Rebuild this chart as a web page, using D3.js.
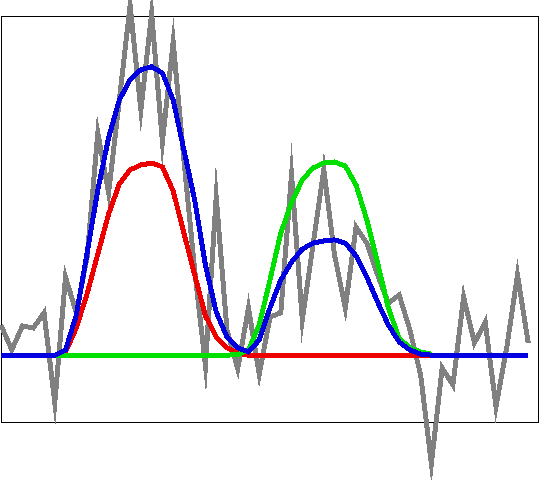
<!DOCTYPE html>
<html>
<head>
<meta charset="utf-8">
<script src="https://cdn.jsdelivr.net/npm/d3@7"></script>
<style>
  html, body { margin: 0; padding: 0; background: #fff; }
  svg { display: block; }
</style>
</head>
<body>
<div id="chart"></div>
<script>
// sample index on the x axis (0..49)
var xIndex = d3.range(50);

// noisy observed signal
var observed = [0.111, 0.019, 0.108, 0.100, 0.156, -0.175, 0.288, 0.156, 0.360, 0.819,
                0.598, 0.941, 1.290, 0.904, 1.260, 0.786, 1.154, 0.719, 0.314, -0.040,
                0.583, 0.093, -0.050, 0.174, -0.070, 0.140, 0.156, 0.664, 0.130, 0.406,
                0.683, 0.369, 0.174, 0.472, 0.413, 0.296, 0.192, 0.222, 0.093, -0.073,
                -0.400, -0.047, -0.110, 0.214, 0.045, 0.122, -0.190, 0.027, 0.296, 0.045];

// first component (red), indices 5..40
var componentA = [0.000, 0.012, 0.100, 0.226, 0.373, 0.520, 0.631, 0.683, 0.701, 0.708,
                  0.694, 0.605, 0.450, 0.296, 0.145, 0.067, 0.027, 0.008, 0.000, 0.000,
                  0.000, 0.000, 0.000, 0.000, 0.000, 0.000, 0.000, 0.000, 0.000, 0.000,
                  0.000, 0.000, 0.000, 0.000, 0.000, 0.000];

// second component (green), indices 5..40
var componentB = [0.000, 0.000, 0.000, 0.000, 0.000, 0.000, 0.000, 0.000, 0.000, 0.000,
                  0.000, 0.000, 0.000, 0.000, 0.000, 0.000, 0.000, 0.002, 0.019, 0.111,
                  0.277, 0.450, 0.561, 0.646, 0.690, 0.708, 0.712, 0.697, 0.627, 0.498,
                  0.340, 0.174, 0.063, 0.027, 0.012, 0.004];
var componentStart = 5;

// fitted model (blue), all indices
var fitted = [0.000, 0.000, 0.000, 0.000, 0.000, 0.000, 0.019, 0.148, 0.376, 0.609,
              0.801, 0.941, 1.015, 1.052, 1.063, 1.040, 0.941, 0.756, 0.572, 0.332,
              0.159, 0.067, 0.027, 0.012, 0.056, 0.174, 0.277, 0.343, 0.391, 0.413,
              0.421, 0.425, 0.413, 0.366, 0.288, 0.196, 0.111, 0.049, 0.019, 0.004,
              0.000, 0.000, 0.000, 0.000, 0.000, 0.000, 0.000, 0.000, 0.000, 0.000];

var width = 540, height = 480;
var plot = {left: 1, top: 16, right: 539, bottom: 423};

var svg = d3.select("#chart").append("svg")
  .attr("width", width)
  .attr("height", height);

var xScale = d3.scaleLinear().domain([0, 50]).range([plot.left, plot.right]);
var yScale = d3.scaleLinear().domain([-0.25, 1.25]).range([plot.bottom, plot.top]);

// frame
svg.append("rect")
  .attr("x", plot.left + 0.5)
  .attr("y", plot.top + 0.5)
  .attr("width", plot.right - plot.left - 1)
  .attr("height", plot.bottom - plot.top - 1)
  .attr("fill", "none")
  .attr("stroke", "#000")
  .attr("stroke-width", 1)
  .attr("shape-rendering", "crispEdges");

var line = d3.line()
  .x(function(d){ return xScale(d[0]); })
  .y(function(d){ return yScale(d[1]); });

function pairs(values, start){
  return values.map(function(v, i){ return [xIndex[start + i], v]; });
}

var series = [
  {name: "observed", data: pairs(observed, 0), color: "#808080"},
  {name: "componentA", data: pairs(componentA, componentStart), color: "#ee0000"},
  {name: "componentB", data: pairs(componentB, componentStart), color: "#00e000"},
  {name: "fitted", data: pairs(fitted, 0), color: "#0000e0"}
];

svg.selectAll(".series").data(series)
  .enter().append("path")
  .attr("class", function(d){ return "series series--" + d.name; })
  .attr("d", function(d){ return line(d.data); })
  .attr("fill", "none")
  .attr("stroke", function(d){ return d.color; })
  .attr("stroke-width", 5)
  .attr("stroke-linejoin", "miter")
  .attr("stroke-miterlimit", 20)
  .attr("shape-rendering", "crispEdges");
</script>
</body>
</html>
